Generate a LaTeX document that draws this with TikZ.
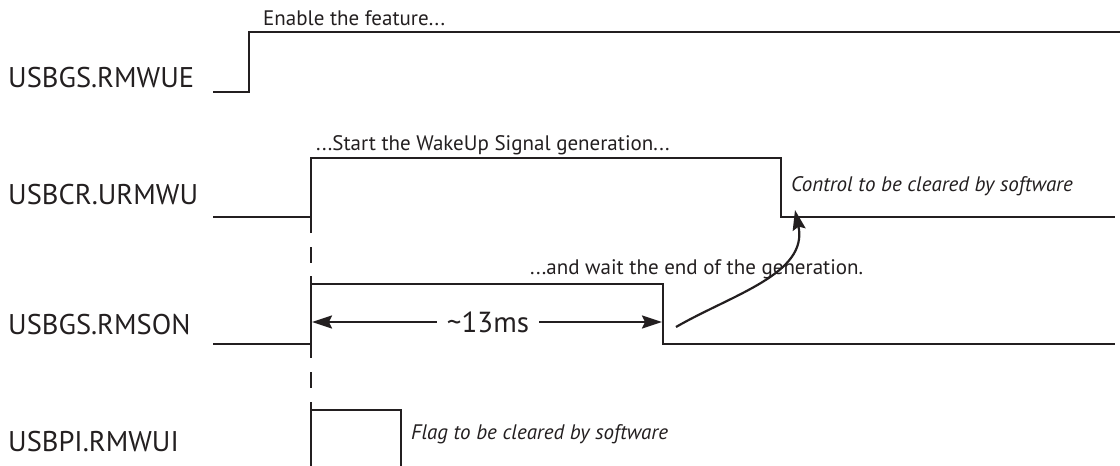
\documentclass[tikz,border=0pt]{standalone}
\usepackage{fontspec}
\setmainfont{PT Sans}
\usetikzlibrary{positioning,arrows.meta,calc}
\definecolor{Ink}{HTML}{231F20}

\begin{document}
\begin{tikzpicture}[x=1pt, y=-1pt, every node/.style={font=\fontsize{21}{25}\selectfont, text=Ink, inner sep=0pt}]
  \tikzstyle{wave}=[line width=2.4pt, draw=Ink, line join=miter]
  \tikzstyle{gap}=[line width=2.4pt, draw=Ink]
  \tikzstyle{sig}=[anchor=base west, font=\fontsize{28.5}{33}\selectfont]
  \tikzstyle{note}=[anchor=base west]
  \tikzstyle{hint}=[anchor=base west, font=\fontsize{21}{25}\selectfont\itshape]
  \tikzstyle{arrow}=[-{Stealth[length=20pt, width=13pt, inset=3pt]}, line width=2.2pt, draw=Ink]

  \useasboundingbox (0,0) rectangle (1120,466);

  % signal names
  \node[sig] (rmwue) at (8,87) {USBGS.RMWUE};
  \node[sig] (urmwu) at (8,204) {USBCR.URMWU};
  \node[sig] (rmson) at (8,334) {USBGS.RMSON};
  \node[sig] (rmwui) at (8,451) {USBPI.RMWUI};

  % waveforms
  \draw[wave] (213,92) -- (249,92) -- (249,32) -- (1120,32);
  \draw[wave] (213,217) -- (311,217) -- (311,158) -- (781,158) -- (781,217) -- (1115,217);
  \draw[wave] (311,233) -- (311,217);
  \draw[wave] (213,344) -- (311,344) -- (311,284) -- (663,284) -- (663,344) -- (1115,344);
  \draw[wave] (311,276) -- (311,284);
  \draw[wave] (311,344) -- (311,358);
  \draw[wave] (311,466) -- (311,410) -- (401,410) -- (401,466);
  \draw[wave] (311,402) -- (311,410);

  % dashes between the edges
  \draw[gap] (311,247) -- (311,263);
  \draw[gap] (311,372) -- (311,388);

  % notes
  \node[note] (enable) at (263,25) {Enable the feature...};
  \node[note] (start) at (316,150) {...Start the WakeUp Signal generation...};
  \node[note] (wait) at (530,274) {...and wait the end of the generation.};
  \node[hint] (ctrl) at (791,191) {Control to be cleared by software};
  \node[hint] (flag) at (411,439) {Flag to be cleared by software};

  % pulse length
  \coordinate (t0) at (312,322);
  \coordinate (t1) at (662,322);
  \node[fill=white, inner xsep=10pt, font=\fontsize{29}{34}\selectfont] (len) at (488,322) {\textasciitilde 13ms};
  \draw[arrow] (len) -- (t0);
  \draw[arrow] (len) -- (t1);

  % end of generation clears the control
  \coordinate (c0) at (676,327);
  \coordinate (c1) at (795,210);
  \draw[arrow] (c0) to[out=30, in=-78] (c1);
\end{tikzpicture}
\end{document}
